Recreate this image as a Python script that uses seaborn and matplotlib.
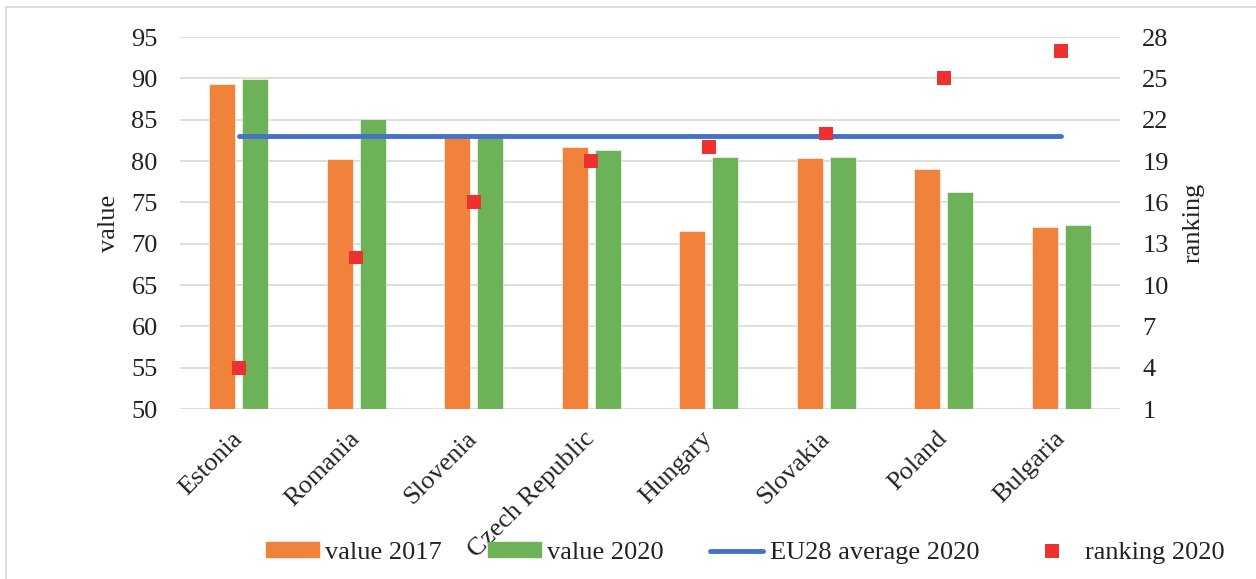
import matplotlib
matplotlib.use("Agg")
import matplotlib.pyplot as plt
import matplotlib.lines as mlines
import matplotlib.patches as mpatches
import seaborn as sns
import pandas as pd
import numpy as np

countries = ["Estonia", "Romania", "Slovenia", "Czech Republic", "Hungary", "Slovakia", "Poland", "Bulgaria"]
value_2017 = [89.3, 80.3, 83.3, 81.7, 71.5, 80.4, 79.0, 72.0]
value_2020 = [89.9, 85.1, 83.3, 81.3, 80.5, 80.5, 76.3, 72.2]
eu28_avg_2020 = [83.05] * 8
ranking_2020 = [4, 12, 16, 19, 20, 21, 25, 27]

left_ticks = [50, 55, 60, 65, 70, 75, 80, 85, 90, 95]
right_ticks = [1, 4, 7, 10, 13, 16, 19, 22, 25, 28]

ORANGE = "#F0823C"
GREEN = "#6DB158"
BLUE = "#4472C4"
RED = "#EE3030"
GRID = "#D9D9D9"
TXT = "#222222"

sns.set_theme(style="white")
plt.rcParams["font.family"] = ["Liberation Serif", "DejaVu Serif"]
FS = 19

df = pd.DataFrame({
    "country": countries * 2,
    "value": value_2017 + value_2020,
    "series": ["value 2017"] * 8 + ["value 2020"] * 8,
})

fig = plt.figure(figsize=(12.56, 5.79), dpi=100)
W, H = 1256, 579
ax = fig.add_axes([180 / W, 1 - 409 / H, 940 / W, 372 / H])

sns.barplot(data=df, x="country", y="value", hue="series", order=countries,
            palette={"value 2017": ORANGE, "value 2020": GREEN}, saturation=1,
            width=0.567, gap=0.22, ax=ax, legend=False, zorder=2,
            edgecolor="white", linewidth=0.4)

sns.lineplot(x=np.arange(len(countries)), y=eu28_avg_2020, ax=ax, color=BLUE,
             linewidth=3.5, solid_capstyle="round", zorder=3, legend=False)

ax.set_ylim(50, 95)
ax.set_xlim(-0.5, 7.5)
ax.set_yticks(left_ticks)
ax.grid(axis="y", color=GRID, linewidth=1.2, zorder=0)
ax.set_axisbelow(True)
for s in ax.spines.values():
    s.set_visible(False)
ax.tick_params(axis="both", length=0, labelsize=FS, labelcolor=TXT)
ax.tick_params(axis="y", pad=16)
ax.tick_params(axis="x", pad=19)
ax.set_xticks(range(len(countries)))
ax.set_xticklabels(countries, rotation=45, ha="right", va="center", rotation_mode="anchor")
ax.set_xlabel("")
ax.set_ylabel("value", fontsize=FS, color=TXT, labelpad=8)

ax2 = ax.twinx()
ax2.patch.set_visible(False)
sns.scatterplot(x=np.arange(len(countries)), y=ranking_2020, ax=ax2, marker="s",
                s=100, color=RED, edgecolor="none", linewidth=0, zorder=4, legend=False)
ax2.set_xlim(-0.5, 7.5)
ax2.set_ylim(1, 28)
ax2.set_yticks(right_ticks)
for s in ax2.spines.values():
    s.set_visible(False)
ax2.tick_params(axis="y", length=0, labelsize=FS, labelcolor=TXT, pad=16)
ax2.set_ylabel("ranking", fontsize=FS, color=TXT, labelpad=10)

handles = [
    mpatches.Patch(color=ORANGE, label="value 2017"),
    mpatches.Patch(color=GREEN, label="value 2020"),
    mlines.Line2D([], [], color=BLUE, linewidth=3.5, solid_capstyle="round", label="EU28 average 2020"),
    mlines.Line2D([], [], color=RED, marker="s", markersize=10, linestyle="none",
                  markeredgewidth=0, label="ranking 2020"),
]
fig.legend(handles=handles, loc="center", bbox_to_anchor=(745 / W, 1 - 553 / H),
           ncol=4, frameon=False, fontsize=FS, handlelength=2.0, handleheight=0.53,
           handletextpad=0.25, columnspacing=1.75, labelcolor=TXT)

# light frame at top and left (as in the reference crop)
fig.add_artist(mlines.Line2D([6 / W, 6 / W], [0, 1 - 7 / H], transform=fig.transFigure,
                             color=GRID, linewidth=1.2))
fig.add_artist(mlines.Line2D([6 / W, 1], [1 - 7 / H, 1 - 7 / H], transform=fig.transFigure,
                             color=GRID, linewidth=1.2))

fig.savefig("out.png", dpi=100)
